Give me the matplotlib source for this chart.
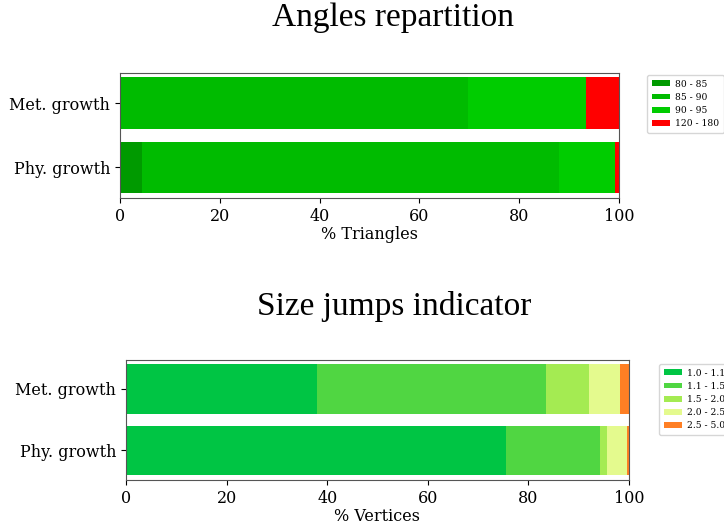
import numpy as np
import matplotlib.pyplot as plt

# data
rows = ["Met. growth", "Phy. growth"]

angle_labels = ["80 - 85", "85 - 90", "90 - 95", "120 - 180"]
angle_colors = ["#009a00", "#00bb00", "#00cc00", "#ff0000"]
angle_met = [0.0, 69.7, 23.7, 6.6]
angle_phy = [4.4, 83.6, 11.2, 0.8]

size_labels = ["1.0 - 1.1", "1.1 - 1.5", "1.5 - 2.0", "2.0 - 2.5", "2.5 - 5.0"]
size_colors = ["#00c544", "#50d642", "#a4eb52", "#e4fa8e", "#ff7f24"]
size_met = [38.0, 45.5, 8.5, 6.3, 1.7]
size_phy = [75.5, 18.8, 1.4, 3.9, 0.4]

plt.rcParams['font.family'] = 'DejaVu Serif'

W, H = 724, 529
fig = plt.figure(figsize=(W / 100, H / 100), dpi=100)


def px_axes(x0, y0, x1, y1):
    return fig.add_axes([x0 / W, 1 - y1 / H, (x1 - x0) / W, (y1 - y0) / H])


def stacked(ax, labels, colors, met, phy, xlabel):
    y = np.arange(len(rows))[::-1]
    vals = np.array([met, phy])
    left = np.zeros(len(rows))
    for i, (lab, col) in enumerate(zip(labels, colors)):
        ax.barh(y, vals[:, i], left=left, height=0.8, color=col, label=lab)
        left += vals[:, i]
    ax.set_xlim(0, 100)
    ax.set_ylim(-0.48, 1.47)
    ax.set_yticks(y)
    ax.set_yticklabels(rows, fontsize=11.5)
    ax.tick_params(axis='x', labelsize=11.5)
    ax.set_xlabel(xlabel, fontsize=11.5, labelpad=1)
    for s in ax.spines.values():
        s.set_color('#555555')


def legend(ax, x, y):
    ax.legend(loc='upper left', bbox_to_anchor=(x / W, 1 - y / H),
              bbox_transform=fig.transFigure, fontsize=6.6, handlelength=2.0,
              handleheight=0.6, handletextpad=0.6, borderaxespad=0,
              labelspacing=0.45, borderpad=0.5)


ax1 = px_axes(120, 73, 619, 198)
stacked(ax1, angle_labels, angle_colors, angle_met, angle_phy, "% Triangles")
legend(ax1, 647, 75)

ax2 = px_axes(126, 360, 629, 480)
stacked(ax2, size_labels, size_colors, size_met, size_phy, "% Vertices")
legend(ax2, 659, 364)

fig.text(393 / W, 1 - 18 / H, "Angles repartition", ha='center', va='center',
         fontsize=24, family='Liberation Serif')
fig.text(394 / W, 1 - 307 / H, "Size jumps indicator", ha='center', va='center',
         fontsize=24, family='Liberation Serif')

fig.savefig("out.png", dpi=100)
